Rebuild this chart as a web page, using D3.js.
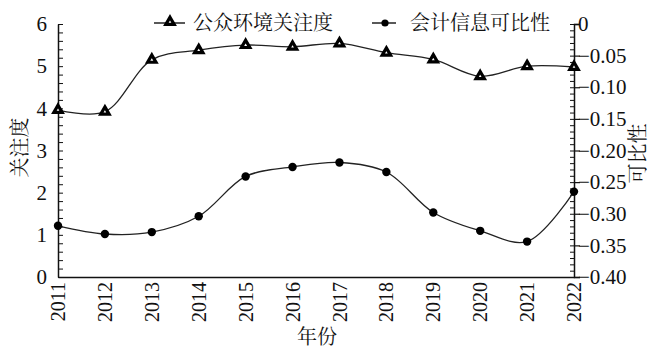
<!DOCTYPE html>
<html>
<head>
<meta charset="utf-8">
<script src="https://cdn.jsdelivr.net/npm/d3@7"></script>
<style>
  body { margin: 0; background: #fff; }
  svg { display: block; }
</style>
</head>
<body>
<svg width="654" height="351"></svg>
<script>
const years = [2011, 2012, 2013, 2014, 2015, 2016, 2017, 2018, 2019, 2020, 2021, 2022];
// 公众环境关注度 (left axis)
const attention = [3.96, 3.92, 5.15, 5.38, 5.5, 5.46, 5.54, 5.32, 5.16, 4.76, 5.0, 4.98];
// 会计信息可比性 (right axis)
const comparability = [-0.319, -0.332, -0.329, -0.304, -0.241, -0.226, -0.219, -0.234, -0.298, -0.327, -0.344, -0.265];
const leftTicks = [0, 1, 2, 3, 4, 5, 6];
const rightTicks = [0, -0.05, -0.10, -0.15, -0.20, -0.25, -0.30, -0.35, -0.40];
const seriesNames = ['公众环境关注度', '会计信息可比性'];

const SERIF = 'Liberation Serif';
const CJK = 'Noto Serif CJK SC';

const svg = d3.select('svg');
const m = { left: 58, right: 80, top: 24, bottom: 74 };
const W = 654, H = 351;
const iw = W - m.left - m.right;
const ih = H - m.top - m.bottom;

const x = d3.scalePoint().domain(years).range([0, iw]);
const yL = d3.scaleLinear().domain([0, 6]).range([ih, 0]);
const yR = d3.scaleLinear().domain([-0.4, 0]).range([ih, 0]);

const g = svg.append('g').attr('transform', `translate(${m.left},${m.top})`);

// ---- minor ticks
g.append('g')
  .call(d3.axisRight(yL).tickValues(d3.range(0, 6.001, 0.2)).tickSize(5).tickFormat(''))
  .call(a => a.select('.domain').remove())
  .selectAll('line').attr('stroke', '#111').attr('stroke-width', 1);

g.append('g')
  .attr('transform', `translate(${iw},0)`)
  .call(d3.axisLeft(yR).tickValues(d3.range(-0.4, 0.0001, 0.01)).tickSize(4).tickFormat(''))
  .call(a => a.select('.domain').remove())
  .selectAll('line').attr('stroke', '#111').attr('stroke-width', 1);

// ---- main axes
const axL = g.append('g')
  .call(d3.axisLeft(yL).tickValues(leftTicks).tickSize(0).tickPadding(11).tickFormat(d3.format('d')))
  .attr('font-family', SERIF).attr('font-size', 21);
axL.select('.domain').attr('stroke', '#111').attr('stroke-width', 1.5);
axL.selectAll('text').attr('fill', '#111');

const axR = g.append('g')
  .attr('transform', `translate(${iw},0)`)
  .call(d3.axisRight(yR).tickValues(rightTicks).tickSize(6).tickPadding(-2)
    .tickFormat(d => d === 0 ? '0' : d3.format('.2f')(d).replace('-', '\u2212')))
  .attr('font-family', SERIF).attr('font-size', 21);
axR.select('.domain').attr('stroke', '#111').attr('stroke-width', 1.5);
axR.selectAll('line').attr('stroke', '#111').attr('stroke-width', 1.2);
axR.selectAll('text').attr('fill', '#111');

const axB = g.append('g')
  .attr('transform', `translate(0,${ih})`)
  .call(d3.axisBottom(x).tickSize(0).tickPadding(0))
  .attr('font-family', SERIF).attr('font-size', 20);
axB.select('.domain').attr('stroke', '#111').attr('stroke-width', 1.5);
axB.selectAll('text')
  .attr('fill', '#111')
  .attr('transform', 'rotate(-90)')
  .attr('x', -5)
  .attr('y', 0)
  .attr('dy', '0.33em')
  .style('text-anchor', 'end');

// ---- axis titles
const titles = g.append('g').attr('font-family', CJK).attr('font-size', 20).attr('fill', '#111');

titles.append('text')
  .attr('transform', `translate(-38,${ih / 2 - 3}) rotate(-90)`)
  .attr('text-anchor', 'middle').attr('dy', '0.35em')
  .text('关注度');

titles.append('text')
  .attr('transform', `translate(${iw + 64},${ih / 2 + 3}) rotate(-90)`)
  .attr('text-anchor', 'middle').attr('dy', '0.35em')
  .text('可比性');

titles.append('text')
  .attr('x', iw / 2 + 1).attr('y', ih + 60).attr('dy', '0.35em')
  .attr('text-anchor', 'middle')
  .text('年份');

// ---- lines
const curve = d3.curveCatmullRom.alpha(0.5);
const lineL = d3.line().x((d, i) => x(years[i])).y(d => yL(d)).curve(curve);
const lineR = d3.line().x((d, i) => x(years[i])).y(d => yR(d)).curve(curve);

g.append('path').datum(attention).attr('d', lineL)
  .attr('fill', 'none').attr('stroke', '#222').attr('stroke-width', 1.3);
g.append('path').datum(comparability).attr('d', lineR)
  .attr('fill', 'none').attr('stroke', '#222').attr('stroke-width', 1.3);

const tri = d3.symbol().type(d3.symbolTriangle).size(30);
g.selectAll('.tri').data(attention).enter().append('path')
  .attr('class', 'tri')
  .attr('transform', (d, i) => `translate(${x(years[i])},${yL(d)})`)
  .attr('d', tri)
  .attr('fill', '#fff').attr('stroke', '#000').attr('stroke-width', 3.2)
  .attr('stroke-linejoin', 'miter');

g.selectAll('.dot').data(comparability).enter().append('circle')
  .attr('class', 'dot')
  .attr('cx', (d, i) => x(years[i]))
  .attr('cy', d => yR(d))
  .attr('r', 4.2)
  .attr('fill', '#000');

// ---- legend
const lg = svg.append('g').attr('font-family', CJK).attr('font-size', 20).attr('fill', '#111');
lg.append('line').attr('x1', 154).attr('x2', 185).attr('y1', 23).attr('y2', 23)
  .attr('stroke', '#222').attr('stroke-width', 1.5);
lg.append('path').attr('transform', 'translate(170,22)').attr('d', tri)
  .attr('fill', '#fff').attr('stroke', '#000').attr('stroke-width', 3.2);
lg.append('text')
  .attr('x', 193).attr('y', 23).attr('dy', '0.35em')
  .text(seriesNames[0]);

lg.append('line').attr('x1', 372).attr('x2', 396).attr('y1', 23).attr('y2', 23)
  .attr('stroke', '#222').attr('stroke-width', 1.5);
lg.append('circle').attr('cx', 385).attr('cy', 23).attr('r', 3.6).attr('fill', '#000');
lg.append('text')
  .attr('x', 410).attr('y', 23).attr('dy', '0.35em')
  .text(seriesNames[1]);
</script>
</body>
</html>
